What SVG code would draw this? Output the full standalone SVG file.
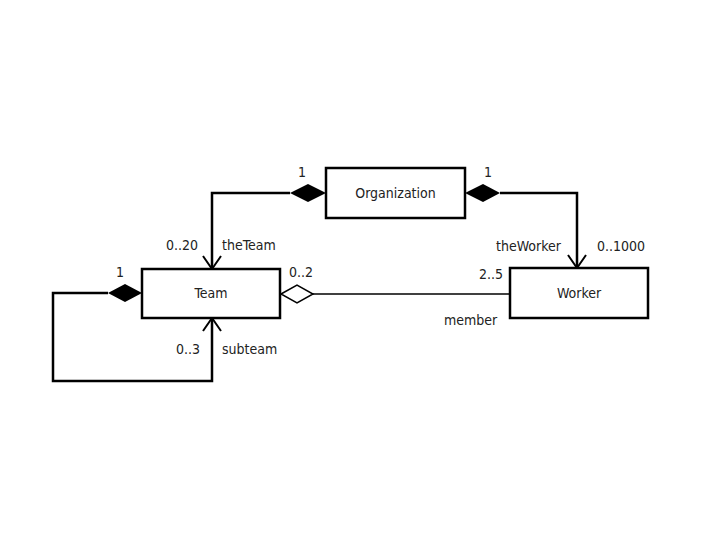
<svg xmlns="http://www.w3.org/2000/svg" width="720" height="540" viewBox="0 0 720 540">
<style>
.box{fill:#fff;stroke:#000;stroke-width:2.5}
.lbl{font-family:"Liberation Sans Narrow","DejaVu Sans Condensed","Liberation Sans",sans-serif;font-size:14px;fill:#222}
.name{font-family:"Liberation Sans Narrow","DejaVu Sans Condensed","Liberation Sans",sans-serif;font-size:14px;fill:#222;text-anchor:middle}
.thick{fill:none;stroke:#000;stroke-width:2.5}
.thin{fill:none;stroke:#000;stroke-width:1.5}
.arr{fill:none;stroke:#000;stroke-width:2}
</style>
<rect width="720" height="540" fill="#fff"/>
<g id="connectors">
<path class="thick" d="M290,193 H212 V268"/>
<polygon points="326,193 308,184 290,193 308,202"/>
<path class="arr" d="M203,256 L212,269 L221,256"/>
<path class="thick" d="M500,193 H577 V267"/>
<polygon points="465,193 483,184 500,193 483,202"/>
<path class="arr" d="M568,255 L577,268 L586,255"/>
<path class="thin" d="M313,294 H510"/>
<polygon points="281,294 297,285 313,294 297,303" fill="#fff" stroke="#000" stroke-width="1.5"/>
<path class="thick" d="M108,293 H53 V381 H212 V319"/>
<polygon points="142,293 125,284 108,293 125,302"/>
<path class="arr" d="M203,331 L212,318 L221,331"/>
</g>
<g id="organization"><rect class="box" x="326" y="168" width="139" height="50"/><text class="name" x="395.5" y="198">Organization</text></g>
<g id="team"><rect class="box" x="142" y="269" width="138" height="49"/><text class="name" x="211" y="298">Team</text></g>
<g id="worker"><rect class="box" x="510" y="268" width="138" height="50"/><text class="name" x="579" y="298">Worker</text></g>
<g id="labels">
<text class="lbl" x="298" y="177">1</text>
<text class="lbl" x="484" y="177">1</text>
<text class="lbl" x="166" y="250">0..20</text>
<text class="lbl" x="222" y="250">theTeam</text>
<text class="lbl" x="496" y="251">theWorker</text>
<text class="lbl" x="597" y="251">0..1000</text>
<text class="lbl" x="479" y="279">2..5</text>
<text class="lbl" x="289" y="277">0..2</text>
<text class="lbl" x="444" y="325">member</text>
<text class="lbl" x="116" y="277">1</text>
<text class="lbl" x="176" y="354">0..3</text>
<text class="lbl" x="222" y="354">subteam</text>
</g>
</svg>
